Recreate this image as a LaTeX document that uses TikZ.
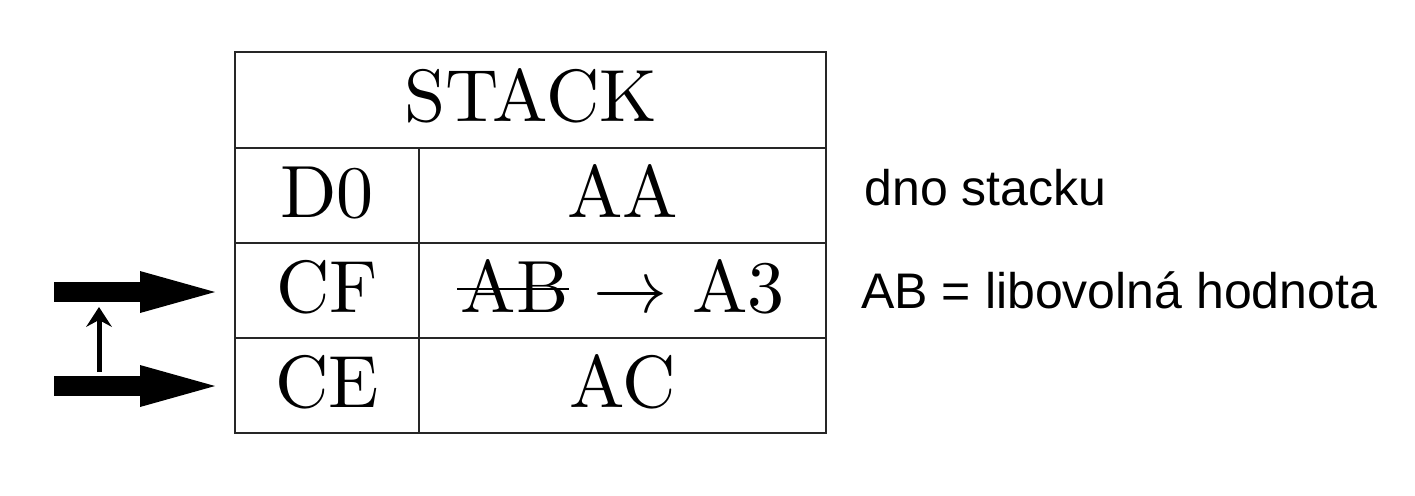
\RequirePackage{fix-cm}
\documentclass[tikz,border=0pt]{standalone}
\usepackage{fontspec}
\newfontfamily\arial{Liberation Sans}
\newfontfamily\lmten{lmroman10-regular.otf}
\usetikzlibrary{arrows.meta,calc}
\DeclareMathSizes{37}{37}{26}{18.5}
\begin{document}
\begin{tikzpicture}[x=0.5pt,y=-0.5pt,
  cell/.style={draw=black!85, line width=1pt, anchor=north west, inner sep=0pt, outer sep=0pt,
    minimum height=47.5pt, font=\lmten\fontsize{37}{41}\selectfont, text height=25.3pt, text depth=3.5pt},
  note/.style={anchor=base west, inner sep=0pt, font=\arial\fontsize{25}{30}\selectfont},
  bigarrow/.style={line width=10pt, line cap=butt, -{Triangle[length=37.5pt,width=21pt,line width=0pt]}, shorten >=10pt},
  smallarrow/.style={line width=2.5pt, -{Stealth[length=10pt,width=13pt,inset=3.5pt,line width=0pt]}}]
\useasboundingbox (0,0) rectangle (1415,495);
% table
\node[cell, minimum width=295.5pt, minimum height=48pt] (stack) at (235,52) {STACK};
\node[cell, minimum width=92pt] (d0) at (235,148) {D0};
\node[cell, minimum width=203.5pt] (aa) at (419,148) {AA};
\node[cell, minimum width=92pt] (cf) at (235,243) {CF};
\node[cell, minimum width=203.5pt] (ab) at (419,243) {AB\hspace{12.4pt}$\rightarrow$\hspace{12.4pt}A3};
\node[cell, minimum width=92pt] (ce) at (235,338) {CE};
\node[cell, minimum width=203.5pt] (ac) at (419,338) {AC};
% strike-through of AB
\draw[line width=1pt] ($(ab.center)+(-165.5,-1.5)$) -- ($(ab.center)+(-53.5,-1.5)$);
% notes
\node[note] (dno) at (864,205) {dno stacku};
\node[note] (lib) at (861,308) {AB = libovolná hodnota};
% pointers
\coordinate (p1) at (54,292);
\coordinate (p2) at (54,386);
\draw[bigarrow] (p1) -- (p1 -| cf.west);
\draw[bigarrow] (p2) -- (p2 -| ce.west);
\coordinate (u0) at (99,372);
\coordinate (u1) at (99,307);
\draw[smallarrow] (u0) -- (u1);
\end{tikzpicture}
\end{document}
